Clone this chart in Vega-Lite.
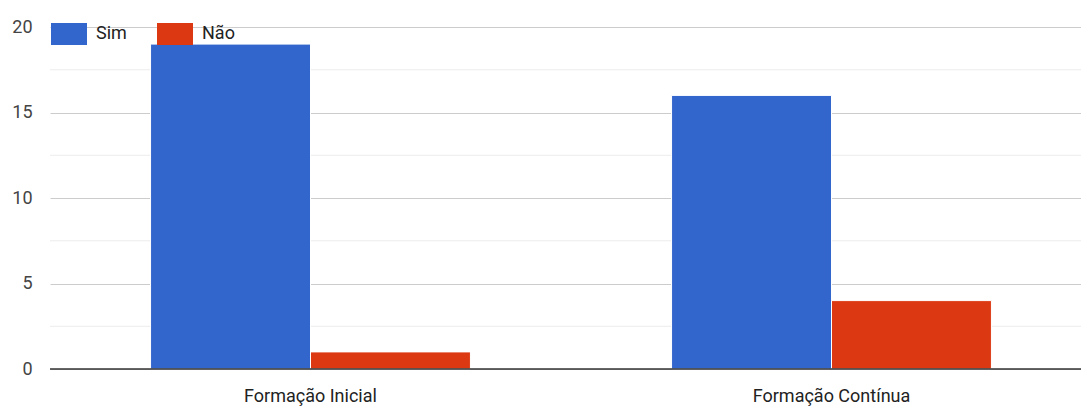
{
  "$schema": "https://vega.github.io/schema/vega-lite/v6.json",
  "width": 1042,
  "height": 342,
  "autosize": {"type": "none"},
  "padding": {"left": 50, "top": 27, "right": 0, "bottom": 37},
  "background": "white",
  "config": {
    "view": {"stroke": null},
    "font": "Roboto"
  },
  "datasets": {
    "bars": [
      {"categoria": "Formação Inicial", "resposta": "Sim", "valor": 19},
      {"categoria": "Formação Inicial", "resposta": "Não", "valor": 1},
      {"categoria": "Formação Contínua", "resposta": "Sim", "valor": 16},
      {"categoria": "Formação Contínua", "resposta": "Não", "valor": 4}
    ],
    "minor": [
      {"v": 2.5}, {"v": 7.5}, {"v": 12.5}, {"v": 17.5}
    ]
  },
  "layer": [
    {
      "data": {"name": "minor"},
      "mark": {"type": "rule", "color": "#ececec", "strokeWidth": 1},
      "encoding": {
        "y": {
          "field": "v", "type": "quantitative", "scale": {"domain": [0, 20], "nice": false},
          "axis": {"title": null, "values": [0, 5, 10, 15, 20], "domain": false, "ticks": false, "gridColor": "#cccccc", "labelFont": "Roboto", "labelFontSize": 18, "labelColor": "#444", "labelPadding": 18}
        }
      }
    },
    {
      "data": {"name": "bars"},
      "mark": {"type": "bar", "stroke": "white", "strokeWidth": 1},
      "encoding": {
        "x": {
          "field": "categoria", "type": "nominal",
          "sort": ["Formação Inicial", "Formação Contínua"],
          "scale": {"paddingInner": 0.386, "paddingOuter": 0.193},
          "axis": {"title": null, "labelAngle": 0, "domain": false, "ticks": false, "labelFont": "Roboto", "labelFontSize": 18, "labelColor": "#222", "labelPadding": 18}
        },
        "xOffset": {"field": "resposta", "type": "nominal", "sort": ["Sim", "Não"], "scale": {"paddingInner": 0, "paddingOuter": 0}},
        "y": {
          "field": "valor", "type": "quantitative",
          "axis": {"title": null, "values": [0, 5, 10, 15, 20], "domain": false, "ticks": false, "gridColor": "#cccccc", "labelFont": "Roboto", "labelFontSize": 18, "labelColor": "#444", "labelPadding": 18}
        },
        "color": {
          "field": "resposta", "type": "nominal",
          "scale": {"domain": ["Sim", "Não"], "range": ["#3366cc", "#dc3912"]},
          "legend": {
            "title": null, "orient": "none", "direction": "horizontal",
            "legendX": 1, "legendY": -11, "padding": 0,
            "symbolType": "M-1,-0.61L1,-0.61L1,0.61L-1,0.61Z",
            "symbolSize": 1296, "symbolStrokeWidth": 0,
            "labelFont": "Roboto", "labelFontSize": 18, "labelColor": "#222",
            "labelOffset": 9, "columnPadding": 30
          }
        }
      }
    },
    {
      "data": {"values": [{"z": 0}]},
      "mark": {"type": "rule", "color": "#333333", "strokeWidth": 1.5},
      "encoding": {
        "y": {
          "field": "z", "type": "quantitative",
          "axis": {"title": null, "values": [0, 5, 10, 15, 20], "domain": false, "ticks": false, "gridColor": "#cccccc", "labelFont": "Roboto", "labelFontSize": 18, "labelColor": "#444", "labelPadding": 18}
        }
      }
    }
  ]
}
